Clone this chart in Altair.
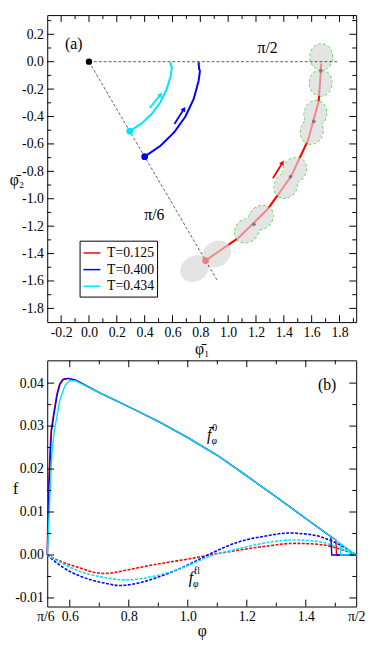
import altair as alt
import pandas as pd
import numpy as np

PI6 = float(np.pi / 6)
PI2 = float(np.pi / 2)
FONT = "Liberation Serif"

SERIES = ["T=0.125", "T=0.400", "T=0.434"]
COLORS = ["#ff0000", "#0000ff", "#00e5ff"]

# ---------------- panel (a) data ----------------
red_x = [0.838, 1.077, 1.283, 1.451, 1.574, 1.650, 1.666, 1.668]
red_y = [-1.451, -1.283, -1.077, -0.838, -0.573, -0.291, -0.067, -0.012]
blue_x = [0.400, 0.514, 0.613, 0.693, 0.752, 0.788, 0.797, 0.795, 0.790, 0.792, 0.788, 0.789]
blue_y = [-0.693, -0.613, -0.514, -0.400, -0.274, -0.139, -0.070, -0.060, -0.050, -0.035, -0.025, -0.003]
cyan_x = [0.293, 0.378, 0.452, 0.513, 0.557, 0.587, 0.596, 0.594, 0.588, 0.589, 0.585]
cyan_y = [-0.507, -0.450, -0.380, -0.296, -0.203, -0.104, -0.045, -0.035, -0.032, -0.018, -0.003]

guide_x = [0.0, 0.0]
guide_y = [0.0, 0.0]
guide_x2 = [1.79, 0.924]
guide_y2 = [0.0, -1.60]

lobe_x = [1.669, 1.665, 1.627, 1.601, 1.478, 1.414, 1.235, 1.134]
lobe_y = [0.035, -0.155, -0.379, -0.507, -0.791, -0.904, -1.137, -1.233]
lobe_orient = [90, 90, 78, 78, 60, 60, 44, 44]
start_lobe_x = [0.917, 0.759]
start_lobe_y = [-1.403, -1.510]
start_lobe_orient = [34, 34]
pair_x = [1.666, 1.615, 1.448, 1.185]
pair_y = [-0.067, -0.436, -0.840, -1.186]

arrow_T = ["T=0.434", "T=0.400", "T=0.125"]
arrow_x = [0.436, 0.614, 1.322]
arrow_y = [-0.337, -0.455, -0.851]
arrow_x2 = [0.515, 0.683, 1.391]
arrow_y2 = [-0.240, -0.344, -0.736]

a_text = ["(a)", "π/2", "π/6"]
a_text_x = [-0.11, 1.283, 0.47]
a_text_y = [0.13, 0.097, -1.12]

xa_major = [-0.2, 0.0, 0.2, 0.4, 0.6, 0.8, 1.0, 1.2, 1.4, 1.6, 1.8]
xa_minor = [-0.1, 0.1, 0.3, 0.5, 0.7, 0.9, 1.1, 1.3, 1.5, 1.7, 1.9]
ya_major = [-1.8, -1.6, -1.4, -1.2, -1.0, -0.8, -0.6, -0.4, -0.2, 0.0, 0.2]
ya_minor = [-1.7, -1.5, -1.3, -1.1, -0.9, -0.7, -0.5, -0.3, -0.1, 0.1, 0.3]

# ---------------- panel (b) data ----------------
f0_blue_x = [PI6, 0.526, 0.5295, 0.5347, 0.538, 0.546, 0.557, 0.567, 0.578, 0.595, 0.62,
             0.7, 0.8, 0.9, 1.0, 1.1, 1.2, 1.3, 1.4, 1.47, 1.485, 1.488, PI2]
f0_blue_y = [0.0, 0.006, 0.0159, 0.0243, 0.0288, 0.0325, 0.0372, 0.0398, 0.0408, 0.0411, 0.0407,
             0.0378, 0.0345, 0.0311, 0.0273, 0.0232, 0.0184, 0.0135, 0.0085, 0.0050, 0.0043, 0.0, 0.0]
f0_red_x = [PI6, 0.525, 0.5285, 0.5335, 0.537, 0.545, 0.556, 0.566, 0.577, 0.594, 0.62,
            0.7, 0.8, 0.9, 1.0, 1.1, 1.2, 1.3, 1.4, 1.47, 1.502, 1.504, PI2]
f0_red_y = [0.0, 0.007, 0.0165, 0.0250, 0.0292, 0.0328, 0.0374, 0.0399, 0.0409, 0.0411, 0.0407,
            0.0378, 0.0345, 0.0311, 0.0273, 0.0232, 0.0184, 0.0135, 0.0085, 0.0050, 0.0035, 0.0, 0.0]
f0_cyan_x = [PI6, 0.528, 0.532, 0.537, 0.540, 0.548, 0.557, 0.567, 0.584, 0.600, 0.620,
             0.7, 0.8, 0.9, 1.0, 1.1, 1.2, 1.3, 1.4, 1.47, 1.518, PI2, 1.518, 1.518]
f0_cyan_y = [0.0, 0.006, 0.0130, 0.0200, 0.0243, 0.0290, 0.0325, 0.0362, 0.0395, 0.0406, 0.0405,
             0.0378, 0.0345, 0.0311, 0.0273, 0.0232, 0.0184, 0.0135, 0.0085, 0.0050, 0.0026, 0.0, 0.0, 0.0026]

fl_red_x = [PI6, 0.573, 0.638, 0.680, 0.715, 0.750, 0.780, 0.867, 0.943, 1.020, 1.074, 1.162, 1.27, 1.36,
            1.44, 1.50, 1.54, PI2]
fl_red_y = [0.0, -0.0016, -0.0031, -0.0040, -0.0043, -0.0041, -0.0037, -0.0025, -0.0016, -0.0007, 0.0,
            0.0010, 0.0021, 0.0027, 0.0025, 0.0017, 0.0008, 0.0]
fl_cyan_x = [PI6, 0.573, 0.638, 0.715, 0.791, 0.867, 0.943, 1.020, 1.074, 1.162, 1.27, 1.357, 1.445, 1.521, PI2]
fl_cyan_y = [0.0, -0.0019, -0.0039, -0.0052, -0.0058, -0.0052, -0.0039, -0.0019, -0.0003, 0.0013, 0.0029, 0.0035,
             0.0031, 0.0014, 0.0]
fl_blue_x = [PI6, 0.573, 0.638, 0.715, 0.769, 0.834, 0.922, 0.998, 1.074, 1.162, 1.27, 1.34, 1.42, 1.49, 1.53, PI2]
fl_blue_y = [0.0, -0.0027, -0.0050, -0.0065, -0.0071, -0.0065, -0.0046, -0.0024, 0.0002, 0.0028, 0.0045, 0.0051,
             0.0047, 0.0032, 0.0018, 0.0]

b_lab_x = [1.080, 1.018]
b_lab_y = [0.0279, -0.0054]
b_lab_base = ["f\u0304", "f"]
b_lab_sup = ["0", "fl"]
b_lab_sub = ["φ", "φ"]

xb_ticks = [PI6, 0.6, 0.8, 1.0, 1.2, 1.4, PI2]
xb_major = [0.6, 0.8, 1.0, 1.2, 1.4]
xb_minor = [0.7, 0.9, 1.1, 1.3, 1.5]
yb_major = [-0.01, 0.0, 0.01, 0.02, 0.03, 0.04]
yb_minor = [-0.005, 0.005, 0.015, 0.025, 0.035]

# ---------------- geometry ----------------
W = 315
H1 = 313
H2 = 251
XA = [-0.3, 1.92]
YA = [-1.9, 0.34]
XB = [PI6, PI2]
YB = [-0.012, 0.0453]
PXX = W / (XA[1] - XA[0])
PXY = H1 / (YA[1] - YA[0])


def sc(dom):
    return alt.Scale(domain=dom, nice=False, zero=False)


def series(xs, ys, label):
    return pd.DataFrame({"x": xs, "y": ys, "T": label, "i": list(range(len(xs)))})


neg_fmt = "datum.value < 0 ? '-' + format(-datum.value, '{f}') : format(datum.value, '{f}')"

AX_XA = alt.Axis(values=xa_major, labelExpr=neg_fmt.format(f=".1f"), title="φ\u0304\u2081",
                 labelPadding=4, titlePadding=1, labelOverlap=False)
AX_YA = alt.Axis(values=ya_major, labelExpr=neg_fmt.format(f=".1f"), title="φ\u0304\u2082",
                 labelPadding=4, titleAngle=0, titleAlign="right", titleBaseline="middle",
                 titleX=-24, titleY=168, labelOverlap=False)
AX_XB = alt.Axis(values=xb_ticks, labelOverlap=False, labelPadding=3, title="φ", titlePadding=0,
                 labelAlign={"condition": {"test": "datum.value < 0.55", "value": "right"}, "value": "center"},
                 labelOffset={"condition": {"test": "datum.value < 0.55", "value": 7}, "value": 0},
                 labelExpr="datum.value < 0.55 ? 'π/6' : (datum.value > 1.55 ? 'π/2' : format(datum.value, '.1f'))")
AX_YB = alt.Axis(values=yb_major, labelExpr=neg_fmt.format(f=".2f"), title="f", labelPadding=4,
                 titleAngle=0, titleAlign="right", titleBaseline="middle", titleX=-30, titleY=131,
                 labelOverlap=False)


def tick_layers(xmaj, xmin, ymaj, ymin, xdom, ydom, xax, yax, w, h):
    layers = []
    for vals, L in [(xmaj, 7), (xmin, 4)]:
        df = pd.DataFrame({"v": vals})
        for a, b in [(h, h - L), (0, L)]:
            layers.append(alt.Chart(df).mark_rule(color="black", strokeWidth=1).encode(
                x=alt.X("v:Q", scale=sc(xdom), axis=xax), y=alt.value(a), y2=alt.value(b)))
    for vals, L in [(ymaj, 7), (ymin, 4)]:
        df = pd.DataFrame({"v": vals})
        for a, b in [(0, L), (w, w - L)]:
            layers.append(alt.Chart(df).mark_rule(color="black", strokeWidth=1).encode(
                y=alt.Y("v:Q", scale=sc(ydom), axis=yax), x=alt.value(a), x2=alt.value(b)))
    return layers


color_scale = alt.Scale(domain=SERIES, range=COLORS)


def XAe(f="x"):
    return alt.X(f"{f}:Q", scale=sc(XA), axis=AX_XA)


def YAe(f="y"):
    return alt.Y(f"{f}:Q", scale=sc(YA), axis=AX_YA)


def XBe(f="x"):
    return alt.X(f"{f}:Q", scale=sc(XB), axis=AX_XB)


def YBe(f="y"):
    return alt.Y(f"{f}:Q", scale=sc(YB), axis=AX_YB)


# ---------------- panel (a) ----------------
traj = pd.concat([series(red_x, red_y, SERIES[0]),
                  series(blue_x, blue_y, SERIES[1]),
                  series(cyan_x, cyan_y, SERIES[2])], ignore_index=True)

legend_a = alt.Legend(orient="none", legendX=33, legendY=230, title=None, symbolType="stroke",
                      symbolSize=300, symbolStrokeWidth=1.5, labelFont=FONT, labelFontSize=14,
                      strokeColor="black", fillColor="white", padding=3, rowPadding=0,
                      labelOffset=6, labelColor="black")

lines_a = alt.Chart(traj).mark_line(strokeWidth=2).encode(
    x=XAe(), y=YAe(),
    color=alt.Color("T:N", scale=color_scale, legend=legend_a),
    order="i:Q",
)

ELL_OUT = "M -1 0 A 1 0.86 0 1 1 1 0 A 1 0.86 0 1 1 -1 0 Z"
ELL_START = "M -1 0 A 1 0.83 0 1 1 1 0 A 1 0.83 0 1 1 -1 0 Z"

lobes = pd.DataFrame({"x": lobe_x, "y": lobe_y, "orient": lobe_orient})
start_lobes = pd.DataFrame({"x": start_lobe_x, "y": start_lobe_y, "orient": start_lobe_orient})

lobe_enc = dict(x=XAe(), y=YAe(), angle=alt.Angle("ang:Q", scale=None))
ANG = "(360 - datum.orient) % 360"

lobe_outline = alt.Chart(lobes).transform_calculate(ang=ANG).mark_point(
    shape=ELL_OUT, size=700, filled=True, fill="#e4e4e4", fillOpacity=1, stroke="#33dd33",
    strokeWidth=1.3, strokeDash=[3, 2], strokeOpacity=1, opacity=1).encode(**lobe_enc)
lobe_fill = alt.Chart(lobes).transform_calculate(ang=ANG).mark_point(
    shape=ELL_OUT, size=700, filled=True, fill="#e4e4e4", fillOpacity=1, strokeWidth=0,
    strokeOpacity=0, opacity=1).encode(**lobe_enc)
start_fill = alt.Chart(start_lobes).transform_calculate(ang=ANG).mark_point(
    shape=ELL_START, size=950, filled=True, fill="#e4e4e4", fillOpacity=1, strokeWidth=0,
    strokeOpacity=0, opacity=1).encode(**lobe_enc)

red_overlay = alt.Chart(series(red_x, red_y, SERIES[0])).mark_line(
    color="#ff0000", strokeWidth=2, opacity=0.4).encode(x=XAe(), y=YAe(), order="i:Q")

guides = alt.Chart(pd.DataFrame({"x": guide_x, "y": guide_y, "x2": guide_x2, "y2": guide_y2})).mark_rule(
    color="#333333", strokeWidth=0.8, strokeDash=[3, 2]).encode(
    x=XAe(), y=YAe(), x2="x2:Q", y2="y2:Q")

origin_dot = alt.Chart(pd.DataFrame({"x": [guide_x[0]], "y": [guide_y[0]]})).mark_circle(
    color="black", size=42, opacity=1).encode(x=XAe(), y=YAe())

start_dots = alt.Chart(traj).transform_filter("datum.i == 0 && datum.T != 'T=0.125'").mark_circle(
    size=48, opacity=1).encode(
    x=XAe(), y=YAe(), color=alt.Color("T:N", scale=color_scale, legend=None))

red_dot = alt.Chart(traj).transform_filter("datum.i == 0 && datum.T == 'T=0.125'").mark_circle(
    size=48, color="#ec8080", opacity=1).encode(x=XAe(), y=YAe())

pair_dots = alt.Chart(pd.DataFrame({"x": pair_x, "y": pair_y})).mark_circle(
    size=14, color="#7a7a7a", opacity=1).encode(x=XAe(), y=YAe())

arrows_df = pd.DataFrame({"T": arrow_T, "x": arrow_x, "y": arrow_y, "x2": arrow_x2, "y2": arrow_y2})
arrow_shafts = alt.Chart(arrows_df).mark_rule(strokeWidth=1.8).encode(
    x=XAe(), y=YAe(), x2="x2:Q", y2="y2:Q",
    color=alt.Color("T:N", scale=color_scale, legend=None))
arrow_heads = alt.Chart(arrows_df).transform_calculate(
    ang=f"(450 - atan2((datum.y2 - datum.y) * {PXY}, (datum.x2 - datum.x) * {PXX}) * 180 / PI) % 360"
).mark_point(shape="triangle-up", filled=True, size=30, opacity=1).encode(
    x=XAe("x2"), y=YAe("y2"),
    angle=alt.Angle("ang:Q", scale=None),
    color=alt.Color("T:N", scale=color_scale, legend=None))

texts_a = alt.Chart(pd.DataFrame({"x": a_text_x, "y": a_text_y, "t": a_text})).mark_text(
    font=FONT, fontSize=16, color="black").encode(x=XAe(), y=YAe(), text="t:N")

panel_a = alt.layer(
    lines_a, lobe_outline, lobe_fill, start_fill, red_overlay, guides, origin_dot, start_dots,
    red_dot, pair_dots, arrow_shafts, arrow_heads, texts_a,
    *tick_layers(xa_major, xa_minor, ya_major, ya_minor, XA, YA, AX_XA, AX_YA, W, H1)
).properties(width=W, height=H1)

# ---------------- panel (b) ----------------
f0 = pd.concat([series(f0_red_x, f0_red_y, SERIES[0]),
                series(f0_blue_x, f0_blue_y, SERIES[1]),
                series(f0_cyan_x, f0_cyan_y, SERIES[2])], ignore_index=True)
fl = pd.concat([series(fl_red_x, fl_red_y, SERIES[0]),
                series(fl_blue_x, fl_blue_y, SERIES[1]),
                series(fl_cyan_x, fl_cyan_y, SERIES[2])], ignore_index=True)

fl_lines = alt.Chart(fl).mark_line(strokeWidth=1.6, strokeDash=[3, 1.5], interpolate="monotone").encode(
    x=XBe(), y=YBe(),
    color=alt.Color("T:N", scale=color_scale, legend=None),
    order="i:Q",
)
f0_lines = alt.Chart(f0).mark_line(strokeWidth=1.4).encode(
    x=XBe(), y=YBe(),
    color=alt.Color("T:N", scale=color_scale, legend=None),
    order="i:Q",
)

blab = pd.DataFrame({"x": b_lab_x, "y": b_lab_y, "base": b_lab_base, "sup": b_lab_sup, "sub": b_lab_sub})
lab_base = alt.Chart(blab).mark_text(font=FONT, fontSize=16, fontStyle="italic", color="black",
                                     align="right").encode(x=XBe(), y=YBe(), text="base:N")
lab_sup = alt.Chart(blab).mark_text(font=FONT, fontSize=10, color="black", align="left",
                                    dx=1, dy=-7).encode(x=XBe(), y=YBe(), text="sup:N")
lab_sub = alt.Chart(blab).mark_text(font=FONT, fontSize=10, fontStyle="italic", color="black",
                                    align="left", dx=0, dy=6).encode(x=XBe(), y=YBe(), text="sub:N")
lab_b = alt.Chart(pd.DataFrame({"x": [1.472], "y": [0.0395], "t": ["(b)"]})).mark_text(
    font=FONT, fontSize=16, color="black").encode(x=XBe(), y=YBe(), text="t:N")

panel_b = alt.layer(
    fl_lines, f0_lines, lab_base, lab_sup, lab_sub, lab_b,
    *tick_layers(xb_major, xb_minor, yb_major, yb_minor, XB, YB, AX_XB, AX_YB, W, H2)
).properties(width=W, height=H2)

chart = alt.vconcat(panel_a, panel_b, spacing=2).resolve_scale(color="independent").properties(
    padding={"left": 0, "top": 0, "right": 0, "bottom": 0}
).configure_view(stroke="black", strokeWidth=1).configure_axis(
    labelFont=FONT, titleFont=FONT, labelFontSize=14, titleFontSize=16, titleFontWeight="normal",
    labelColor="black", titleColor="black", grid=False, ticks=False, domain=False
)

chart.save("out.html", embed_options={"renderer": "svg", "actions": False})
